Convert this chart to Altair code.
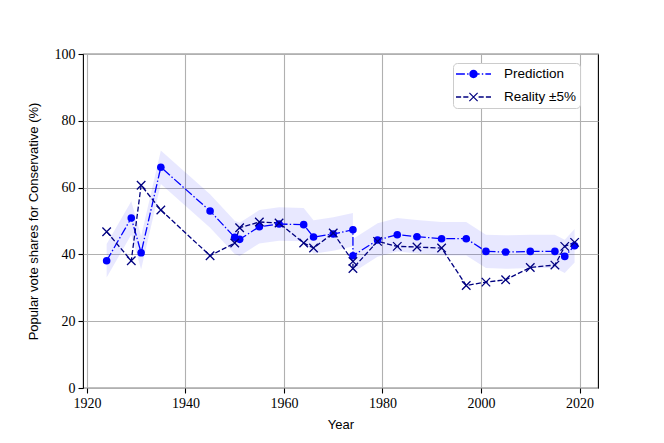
import altair as alt
import pandas as pd

years = [1924, 1929, 1931, 1935, 1945, 1950, 1951, 1955, 1959, 1964, 1966, 1970,
         1974, 1974, 1979, 1983, 1987, 1992, 1997, 2001, 2005, 2010, 2015, 2017, 2019]
prediction = [38.1, 50.9, 40.5, 66.1, 53.0, 45.1, 44.5, 48.3, 49.1, 48.9, 45.2, 46.1,
              47.4, 39.6, 44.3, 45.9, 45.3, 44.7, 44.7, 40.9, 40.7, 40.9, 40.9, 39.4, 42.6]
reality = [46.8, 38.1, 60.7, 53.3, 39.6, 43.4, 48.0, 49.7, 49.4, 43.4, 41.9, 46.4,
           37.9, 35.8, 43.9, 42.4, 42.2, 41.9, 30.7, 31.7, 32.4, 36.1, 36.8, 42.4, 43.6]
band = 5.0
series_names = ["Prediction", "Reality \u00b15%"]

df = pd.DataFrame({
    "idx": list(range(len(years))),
    "Year": years,
    "pred": prediction,
    "real": reality,
})
df["lo"] = df["pred"] - band
df["hi"] = df["pred"] + band

xscale = alt.Scale(domain=[1919.2, 2023.75], nice=False, zero=False)
yscale = alt.Scale(domain=[0, 100], nice=False)

xaxis = alt.Axis(values=[1920, 1940, 1960, 1980, 2000, 2020], format="d", title="Year",
                 grid=True, labelFlush=False)
yaxis = alt.Axis(values=[0, 20, 40, 60, 80, 100], title="Popular vote shares for Conservative (%)",
                 grid=True)

base = alt.Chart(df)

area = base.mark_area(color="blue", opacity=0.09).encode(
    x=alt.X("Year:Q", scale=xscale, axis=xaxis),
    y=alt.Y("lo:Q", scale=yscale, axis=yaxis),
    y2="hi:Q",
)

pred_line = base.mark_line(color="blue", strokeWidth=1.3, strokeDash=[8.9, 2.2, 1.4, 2.2]).encode(
    x="Year:Q", y="pred:Q", order="idx:Q"
)
pred_pts = base.mark_point(color="blue", filled=True, shape="circle", size=58, opacity=1).encode(
    x="Year:Q", y="pred:Q"
)
real_line = base.mark_line(color="#000080", strokeWidth=1.3, strokeDash=[5.1, 2.2]).encode(
    x="Year:Q", y="real:Q", order="idx:Q"
)
real_pts = base.mark_point(color="#000080", filled=False, strokeWidth=1.3, size=72, opacity=1,
                           shape="M-1,-1L1,1M-1,1L1,-1").encode(
    x="Year:Q", y="real:Q"
)

# legend symbols (filled paths: dashes + marker)
def rect(x0, x1, t=0.09):
    return f"M{x0:.3f},{-t}L{x1:.3f},{-t}L{x1:.3f},{t}L{x0:.3f},{t}Z"

circ_r = 0.6
circle_path = (f"M{circ_r},0A{circ_r},{circ_r} 0 1,1 {-circ_r},0"
               f"A{circ_r},{circ_r} 0 1,1 {circ_r},0Z")
pred_sym = "".join([rect(-2.5, -1.23), rect(-0.91, -0.71), rect(-0.4, 0.87),
                    rect(1.19, 1.39), rect(1.7, 2.5)]) + circle_path
a, d = 0.59, 0.06
x1 = f"M{-a+d},{-a-d}L{a+d},{a-d}L{a-d},{a+d}L{-a-d},{-a+d}Z"
x2 = f"M{-a+d},{a+d}L{-a-d},{a-d}L{a-d},{-a-d}L{a+d},{-a+d}Z"
real_sym = "".join([rect(-2.5, -1.77), rect(-1.46, -0.73), rect(0.73, 1.46),
                    rect(1.77, 2.5)]) + x1 + x2

leg = dict(title=None, orient="none", legendX=370, legendY=9,
           symbolSize=196, symbolOffset=9.5, labelOffset=23.5,
           padding=4, rowPadding=9, fillColor="white",
           strokeColor="#cccccc", cornerRadius=4,
           labelFont="Liberation Sans", labelFontSize=13.5,
           labelColor="black", symbolStrokeWidth=0)

legend_df = pd.DataFrame({"series": series_names})
legend_layer = alt.Chart(legend_df).mark_point(filled=True, opacity=1).encode(
    x=alt.value(0), y=alt.value(0),
    color=alt.Color("series:N", scale=alt.Scale(domain=series_names, range=["blue", "#000080"]),
                    legend=alt.Legend(**leg)),
    shape=alt.Shape("series:N", scale=alt.Scale(domain=series_names, range=[pred_sym, real_sym]),
                    legend=alt.Legend(**leg)),
).transform_filter("false")

chart = alt.layer(area, pred_line, real_line, pred_pts, real_pts, legend_layer).properties(
    width=515, height=334,
    autosize=alt.AutoSizeParams(type="none"),
    padding={"left": 75, "top": 46, "right": 50, "bottom": 45},
).configure_view(
    stroke="black", strokeWidth=1.1
).configure_axis(
    domain=False, gridColor="#b0b0b0", gridWidth=1.1, gridOpacity=1,
    tickColor="black", tickSize=5, tickWidth=1.1,
    labelFont="Liberation Serif", labelFontSize=14, labelColor="black", labelPadding=3,
    titleFont="Liberation Sans", titleFontSize=13, titleFontWeight="normal", titleColor="black",
).configure_axisX(titlePadding=8).configure_axisY(titlePadding=14)

chart.save("out.html", embed_options={"renderer": "svg", "actions": False})
